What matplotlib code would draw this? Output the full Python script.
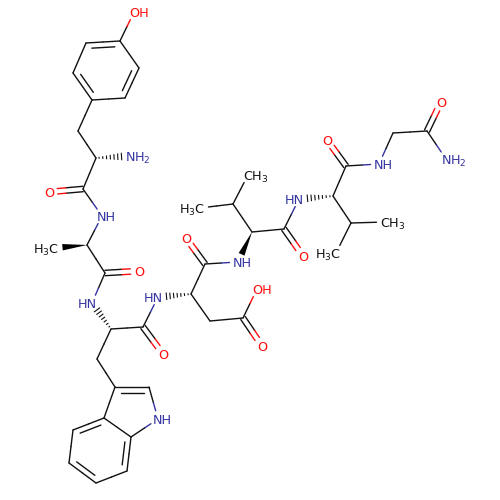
import numpy as np
import matplotlib
matplotlib.use('Agg')
import matplotlib.pyplot as plt

BLUE = '#3333a0'
RED = '#ff0d0d'
BLACK = '#111111'

# atom positions, in image pixels
atoms = {
    # tyrosine
    'y_o': (134, 12), 'y_c4': (120, 41), 'y_c3': (86, 43), 'y_c2': (73, 73),
    'y_c1': (92, 100), 'y_c6': (125, 98), 'y_c5': (139, 68), 'y_cb': (78, 131),
    'y_ca': (96, 158), 'y_n': (130, 156), 'y_c': (83, 189), 'y_co': (49, 192),
    # alanine
    'a_n': (102, 216), 'a_ca': (87, 245), 'a_cb': (54, 248), 'a_c': (105, 273),
    'a_co': (139, 271),
    # tryptophan
    't_n': (92, 303), 't_ca': (111, 329), 't_c': (143, 327), 't_co': (163, 354),
    't_cb': (97, 359), 't_c3': (115, 387), 't_c2': (149, 387), 't_n1': (158, 419),
    't_c7a': (131, 437), 't_c3a': (104, 418), 't_c4': (73, 430), 't_c5': (69, 463),
    't_c6': (96, 483), 't_c7': (127, 471),
    # aspartic acid
    'd_n': (158, 297), 'd_ca': (191, 294), 'd_c': (205, 264), 'd_co': (186, 238),
    'd_cb': (210, 321), 'd_cg': (243, 318), 'd_oh': (257, 289), 'd_od': (262, 346),
    # first valine
    'v_n': (238, 262), 'v_ca': (252, 232), 'v_cb': (233, 204), 'v_m1': (200, 208),
    'v_m2': (248, 175), 'v_c': (284, 229), 'v_co': (303, 256),
    # second valine
    'w_n': (299, 199), 'w_ca': (333, 196), 'w_cb': (351, 223), 'w_m1': (385, 222),
    'w_m2': (336, 253), 'w_c': (346, 166), 'w_co': (327, 140),
    # glycinamide
    'g_n': (379, 164), 'g_ca': (393, 133), 'g_c': (427, 131), 'g_co': (441, 102),
    'g_nt': (446, 159),
}

# atom, text, element, which side of the first glyph the text runs
labels = [
    ('y_o', 'OH', 'O', 'left'), ('y_n', 'NH$_2$', 'N', 'left'), ('y_co', 'O', 'O', 'center'),
    ('a_n', 'NH', 'N', 'left'), ('a_cb', 'H$_3$C', 'C', 'right'), ('a_co', 'O', 'O', 'center'),
    ('t_n', 'HN', 'N', 'right'), ('t_co', 'O', 'O', 'center'), ('t_n1', 'NH', 'N', 'left'),
    ('d_n', 'HN', 'N', 'right'), ('d_co', 'O', 'O', 'center'), ('d_oh', 'OH', 'O', 'left'),
    ('d_od', 'O', 'O', 'center'), ('v_n', 'NH', 'N', 'left'), ('v_m1', 'H$_3$C', 'C', 'right'),
    ('v_m2', 'CH$_3$', 'C', 'left'), ('v_co', 'O', 'O', 'center'), ('w_n', 'HN', 'N', 'right'),
    ('w_m1', 'CH$_3$', 'C', 'left'), ('w_m2', 'H$_3$C', 'C', 'right'), ('w_co', 'O', 'O', 'center'),
    ('g_n', 'NH', 'N', 'left'), ('g_co', 'O', 'O', 'center'), ('g_nt', 'NH$_2$', 'N', 'left'),
]

single_bonds = [
    ('y_c4', 'y_o'), ('y_c3', 'y_c2'), ('y_c1', 'y_c6'), ('y_c5', 'y_c4'), ('y_c1', 'y_cb'),
    ('y_cb', 'y_ca'), ('y_ca', 'y_c'), ('y_c', 'a_n'), ('a_n', 'a_ca'), ('a_ca', 'a_c'),
    ('a_c', 't_n'), ('t_ca', 't_c'), ('t_ca', 't_cb'), ('t_cb', 't_c3'), ('t_c', 'd_n'),
    ('t_c2', 't_n1'), ('t_n1', 't_c7a'), ('t_c7a', 't_c3a'), ('t_c3a', 't_c3'), ('t_c4', 't_c5'),
    ('t_c6', 't_c7'), ('d_ca', 'd_c'), ('d_ca', 'd_cb'), ('d_cb', 'd_cg'), ('d_cg', 'd_oh'),
    ('d_c', 'v_n'), ('v_ca', 'v_cb'), ('v_cb', 'v_m1'), ('v_cb', 'v_m2'), ('v_ca', 'v_c'),
    ('v_c', 'w_n'), ('w_ca', 'w_c'), ('w_ca', 'w_cb'), ('w_cb', 'w_m1'), ('w_cb', 'w_m2'),
    ('w_c', 'g_n'), ('g_n', 'g_ca'), ('g_ca', 'g_c'), ('g_c', 'g_nt'),
]

carbonyl_bonds = [
    ('y_c', 'y_co'), ('a_c', 'a_co'), ('t_c', 't_co'), ('d_c', 'd_co'), ('d_cg', 'd_od'),
    ('v_c', 'v_co'), ('w_c', 'w_co'), ('g_c', 'g_co'),
]

tyr_ring = ['y_c1', 'y_c2', 'y_c3', 'y_c4', 'y_c5', 'y_c6']
benzo_ring = ['t_c3a', 't_c4', 't_c5', 't_c6', 't_c7', 't_c7a']
pyrrole_ring = ['t_c3', 't_c2', 't_n1', 't_c7a', 't_c3a']

ring_doubles = [
    ('y_c3', 'y_c4', tyr_ring), ('y_c5', 'y_c6', tyr_ring), ('y_c1', 'y_c2', tyr_ring),
    ('t_c3a', 't_c4', benzo_ring), ('t_c5', 't_c6', benzo_ring), ('t_c7', 't_c7a', benzo_ring),
    ('t_c3', 't_c2', pyrrole_ring),
]

bold_wedges = [('a_ca', 'a_cb'), ('v_ca', 'v_n')]
hash_wedges = [('y_ca', 'y_n'), ('t_ca', 't_n'), ('d_ca', 'd_n'), ('w_ca', 'w_n')]

ELEMENT_COLORS = {'N': BLUE, 'O': RED, 'C': BLACK}
element_of = {a: el for a, _, el, _ in labels}
GAP = 8.5


def pos(name):
    return np.array(atoms[name], dtype=float)


def clipped(a, b):
    # bond end points, pulled back from any labelled atom
    p, q = pos(a), pos(b)
    u = (q - p) / np.linalg.norm(q - p)
    start = p + u * GAP if a in element_of else p
    end = q - u * GAP if b in element_of else q
    return p, q, start, end


def draw_bond(ax, a, b, shift=np.zeros(2)):
    p, q, start, end = clipped(a, b)
    mid = (p + q) / 2
    for s, e, atom in ((start, mid, a), (mid, end, b)):
        color = ELEMENT_COLORS[element_of.get(atom, 'C')]
        s2, e2 = s + shift, e + shift
        ax.plot([s2[0], e2[0]], [s2[1], e2[1]], color=color, lw=1.0,
                solid_capstyle='round', zorder=2)


fig = plt.figure(figsize=(5, 5), dpi=100)
ax = fig.add_axes([0, 0, 1, 1])
ax.set_xlim(0, 500)
ax.set_ylim(500, 0)
ax.axis('off')
plt.rcParams['mathtext.default'] = 'regular'

for a, b in single_bonds:
    draw_bond(ax, a, b)

for a, b in carbonyl_bonds:
    p, q = pos(a), pos(b)
    u = (q - p) / np.linalg.norm(q - p)
    normal = np.array([-u[1], u[0]])
    draw_bond(ax, a, b, normal * 2.7)
    draw_bond(ax, a, b, normal * -2.7)

for a, b, ring in ring_doubles:
    draw_bond(ax, a, b)
    p, q = pos(a), pos(b)
    centre = np.mean([pos(n) for n in ring], axis=0)
    u = (q - p) / np.linalg.norm(q - p)
    normal = np.array([-u[1], u[0]])
    if np.dot(centre - (p + q) / 2, normal) < 0:
        normal = -normal
    inner_a = p + u * 5.5 + normal * 5.5
    inner_b = q - u * 5.5 + normal * 5.5
    ax.plot([inner_a[0], inner_b[0]], [inner_a[1], inner_b[1]], color=BLACK, lw=1.0,
            solid_capstyle='round', zorder=2)

for a, b in bold_wedges:
    p, q, start, end = clipped(a, b)
    u = (end - p) / np.linalg.norm(end - p)
    normal = np.array([-u[1], u[0]])
    corners = np.array([p, end + normal * 3.2, end - normal * 3.2])
    ax.fill(corners[:, 0], corners[:, 1], color='black', lw=0, zorder=3)

for a, b in hash_wedges:
    p, q, start, end = clipped(a, b)
    u = (end - p) / np.linalg.norm(end - p)
    normal = np.array([-u[1], u[0]])
    for f in np.linspace(0.12, 1.0, 7):
        c = p + (end - p) * f
        w = 3.2 * f
        ax.plot([c[0] - normal[0] * w, c[0] + normal[0] * w],
                [c[1] - normal[1] * w, c[1] + normal[1] * w],
                color=BLACK, lw=0.8, zorder=2)

for atom, text, element, side in labels:
    x, y = atoms[atom]
    # the anchor is the glyph bonded to the chain, the rest of the label runs off it
    if side == 'left':
        x -= 4.8
    elif side == 'right':
        x += 4.8
    ax.text(x, y, text, color=ELEMENT_COLORS[element], fontsize=9.2, ha=side,
            va='center_baseline', family='DejaVu Sans', zorder=4)

fig.savefig('out.png', dpi=100, facecolor='white')
plt.close(fig)
